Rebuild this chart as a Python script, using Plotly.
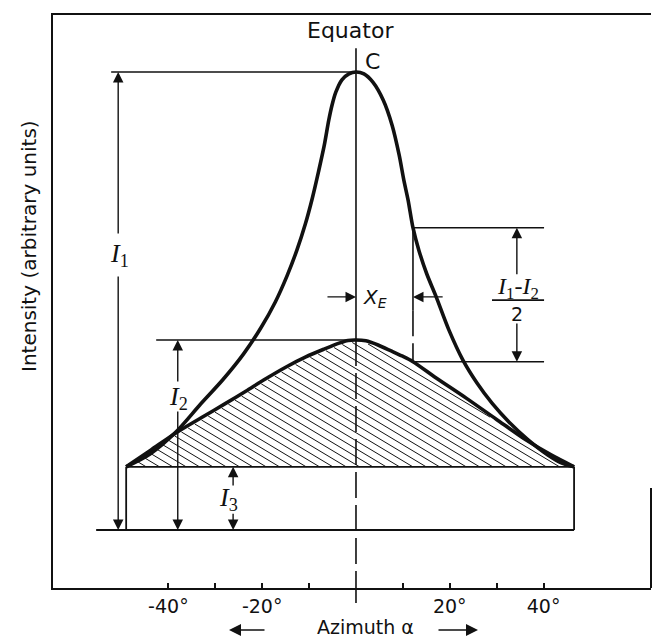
import numpy as np
import plotly.graph_objects as go

# Azimuthal intensity profiles: alpha in degrees, intensity in arbitrary units
UPPER_DEG = [-49.0, -43.9, -38.4, -33.3, -28.4, -24.0, -20.3, -17.2, -14.7, -12.6,
             -10.8, -9.3, -8.0, -6.8, -5.8, -5.1, -4.3, -3.0, -1.5, 0.0,
             1.7, 3.6, 5.8, 7.7, 9.2, 10.2, 11.1, 12.15, 13.4, 15.1,
             17.1, 19.8, 22.8, 25.8, 29.0, 32.6, 36.7, 40.9, 43.9, 46.5]
UPPER_I = [13.8, 16.6, 21.4, 27.3, 32.8, 38.4, 44.1, 49.8, 55.5, 61.1,
           66.8, 72.5, 78.2, 83.8, 89.5, 92.8, 95.6, 98.3, 99.6, 100.0,
           99.6, 97.8, 93.9, 88.4, 81.9, 76.4, 72.1, 66.0, 61.1, 55.9,
           50.9, 43.7, 37.1, 32.1, 27.7, 23.6, 19.7, 16.4, 14.6, 13.8]

LOWER_DEG = [-49.0, -43.7, -38.4, -33.0, -27.7, -23.5, -19.6, -14.9, -10.7, -6.8,
             -3.6, -1.7, 0.0, 2.1, 4.7, 7.5, 9.8, 12.15, 17.1, 23.5,
             29.9, 36.2, 41.6, 46.5]
LOWER_I = [13.8, 17.5, 21.2, 24.5, 27.7, 30.3, 32.8, 35.6, 37.8, 39.5,
           40.8, 41.4, 41.5, 41.3, 40.4, 39.1, 38.0, 36.75, 33.2, 28.8,
           24.2, 19.7, 16.4, 13.8]

# Characteristic levels
I1 = 100.0
I2 = 41.5
I3 = 13.8
X_HALF = 12.15                       # azimuth of the half-level construction
HALF_TOP = 66.0
HALF_BOTTOM = HALF_TOP - (I1 - I2) / 2

TICK_VALS = [-40, -30, -20, -10, 10, 20, 30, 40]
TICK_TEXT = ["-40°", "", "-20°", "", "", "20°", "", "40°"]

# Layout geometry
W, H = 653, 640
MARGIN = dict(l=53, r=2, t=15, b=52)
X_RANGE = [-64.6, 62.9]
Y_RANGE = [-12.66, 112.45]
PW = W - MARGIN["l"] - MARGIN["r"]
PH = H - MARGIN["t"] - MARGIN["b"]
SX = PW / (X_RANGE[1] - X_RANGE[0])
SY = PH / (Y_RANGE[1] - Y_RANGE[0])

X_LEFT, X_RIGHT = UPPER_DEG[0], UPPER_DEG[-1]
BLACK = "#111111"
SANS = "DejaVu Sans"
SERIF = "Liberation Serif"


def hatch_lines(xs, ys, floor, slope=0.6, step=8.0):
    """Diagonal hatching (down to the right) between `floor` and the curve."""
    u = np.linspace(xs[0], xs[-1], 4000)
    top = np.interp(u, xs, ys)
    up = u * SX
    c_lo = (floor * SY + slope * up).min()
    c_hi = (top * SY + slope * up).max()
    hx, hy = [], []
    for c in np.arange(c_lo + step / 2, c_hi, step):
        v = (c - slope * up) / SY
        idx = np.flatnonzero((v >= floor) & (v <= top - 0.5))
        if idx.size < 2:
            continue
        hx += [u[idx[0]], u[idx[-1]], None]
        hy += [v[idx[0]], v[idx[-1]], None]
    return hx, hy


fig = go.Figure()

hx, hy = hatch_lines(LOWER_DEG, LOWER_I, I3)
fig.add_trace(go.Scatter(x=hx, y=hy, mode="lines",
                         line=dict(color=BLACK, width=1.0), hoverinfo="skip"))

# Base rectangle and zero line
fig.add_trace(go.Scatter(
    x=[X_LEFT, X_RIGHT, None, X_LEFT, X_LEFT, None, X_RIGHT, X_RIGHT, None, -55.4, X_RIGHT],
    y=[I3, I3, None, I3, 0, None, I3, 0, None, 0, 0],
    mode="lines", line=dict(color=BLACK, width=1.8), hoverinfo="skip"))

# Reference levels
fig.add_trace(go.Scatter(
    x=[-52.2, 0, None, -42.6, 0, None, X_HALF, 40.1, None, X_HALF, 40.1],
    y=[I1, I1, None, I2, I2, None, HALF_TOP, HALF_TOP, None, HALF_BOTTOM, HALF_BOTTOM],
    mode="lines", line=dict(color=BLACK, width=1.6), hoverinfo="skip"))

# Equator line and half-level vertical
fig.add_trace(go.Scatter(x=[0, 0, None, X_HALF, X_HALF], y=[105.2, I2, None, HALF_TOP, 48.0],
                         mode="lines", line=dict(color=BLACK, width=1.6), hoverinfo="skip"))
fig.add_trace(go.Scatter(x=[0, 0, None, X_HALF, X_HALF],
                         y=[I2, Y_RANGE[0], None, 48.0, HALF_BOTTOM],
                         mode="lines", line=dict(color=BLACK, width=1.6, dash="26px,7px"),
                         hoverinfo="skip"))

# Fraction bar of the half-level label
fig.add_trace(go.Scatter(x=[29.0, 40.1], y=[50.2, 50.2], mode="lines",
                         line=dict(color=BLACK, width=1.6), hoverinfo="skip"))

# Profiles
fig.add_trace(go.Scatter(x=LOWER_DEG, y=LOWER_I, mode="lines",
                         line=dict(color=BLACK, width=3.6, shape="spline", smoothing=0.8),
                         hoverinfo="skip"))
fig.add_trace(go.Scatter(x=UPPER_DEG, y=UPPER_I, mode="lines",
                         line=dict(color=BLACK, width=3.6, shape="spline", smoothing=0.8),
                         hoverinfo="skip"))

annotations = []


def arrow(x, y, ax, ay):
    annotations.append(dict(x=x, y=y, ax=ax, ay=ay, xref="x", yref="y", axref="x", ayref="y",
                            text="", showarrow=True, arrowhead=2, arrowsize=1.5,
                            arrowwidth=1.4, arrowcolor=BLACK, standoff=0, startstandoff=0))


def label(x, y, text, size, family=SANS, **kw):
    annotations.append(dict(x=x, y=y, xref="x", yref="y", text=text, showarrow=False,
                            font=dict(family=family, size=size, color=BLACK), **kw))


# Dimension arrows
arrow(-50.7, I1, -50.7, 64.4)
arrow(-50.7, 0, -50.7, 55.7)
arrow(-38.0, I2, -38.0, 32.1)
arrow(-38.0, 0, -38.0, 26.2)
arrow(-26.2, I3, -26.2, 9.4)
arrow(-26.2, 0, -26.2, 3.9)
arrow(34.3, HALF_TOP, 34.3, 55.5)
arrow(34.3, HALF_BOTTOM, 34.3, 45.4)
arrow(0, 50.9, -6.4, 50.9)
arrow(X_HALF, 50.9, 18.8, 50.9)

# Text labels
label(-50.4, 60.0, "<i>I</i><sub>1</sub>", 26, SERIF)
label(-37.8, 28.8, "<i>I</i><sub>2</sub>", 26, SERIF)
label(-27.2, 6.8, "<i>I</i><sub>3</sub>", 26, SERIF)
label(34.5, 52.8, "<i>I</i><sub>1</sub>-<i>I</i><sub>2</sub>", 24, SERIF)
label(34.3, 47.2, "2", 19)
label(1.0, 50.6, "<i>X</i><sub><i>E</i></sub>", 20, xanchor="left")
label(-1.1, 109.0, "Equator", 22)
label(3.6, 102.4, "C", 22)

# Axis title and direction arrows below the axis
annotations.append(dict(x=(29 - MARGIN["l"]) / PW, y=(H - MARGIN["b"] - 246) / PH,
                        xref="paper", yref="paper", xanchor="center", yanchor="middle",
                        text="Intensity (arbitrary units)",
                        textangle=-90, showarrow=False,
                        font=dict(family=SANS, size=20, color=BLACK)))
annotations.append(dict(x=(365 - MARGIN["l"]) / PW, y=(H - MARGIN["b"] - 627) / PH,
                        xref="paper", yref="paper", xanchor="center", yanchor="middle",
                        text="Azimuth α", showarrow=False,
                        font=dict(family=SANS, size=19, color=BLACK)))
for head, tail in [(229, 266), (478, 437)]:
    annotations.append(dict(x=(head - MARGIN["l"]) / PW, y=(H - MARGIN["b"] - 630) / PH,
                            xref="paper", yref="paper", ax=tail - head, ay=0, text="",
                            showarrow=True, arrowhead=2, arrowsize=1.5, arrowwidth=1.6,
                            arrowcolor=BLACK, standoff=0))

shapes = [
    # equator line continues just below the axis
    dict(type="line", xref="x", yref="paper", x0=0, x1=0, y0=-15 / PH, y1=0,
         line=dict(color=BLACK, width=1.6)),
    # short right-hand frame segment
    dict(type="line", xref="paper", yref="paper", x0=1, x1=1, y0=0, y1=100 / PH,
         line=dict(color=BLACK, width=2)),
]

fig.update_layout(
    width=W, height=H, margin=MARGIN,
    paper_bgcolor="white", plot_bgcolor="white",
    showlegend=False,
    annotations=annotations, shapes=shapes,
    xaxis=dict(range=X_RANGE, showgrid=False, zeroline=False,
               showline=True, linecolor=BLACK, linewidth=2, mirror=True,
               ticks="inside", ticklen=5, tickwidth=1.5, tickcolor=BLACK,
               tickvals=TICK_VALS, ticktext=TICK_TEXT,
               tickfont=dict(family=SANS, size=19, color=BLACK), fixedrange=True),
    yaxis=dict(range=Y_RANGE, showgrid=False, zeroline=False,
               showline=True, linecolor=BLACK, linewidth=2,
               showticklabels=False, ticks="", fixedrange=True),
)

fig.write_html("out.html")
